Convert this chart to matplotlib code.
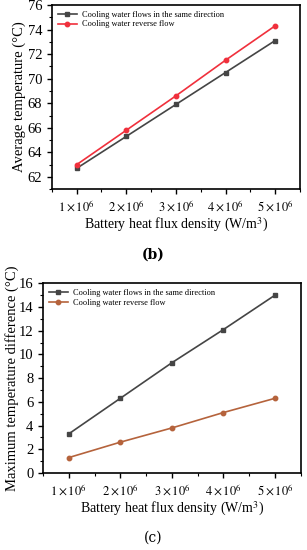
import numpy as np
import matplotlib.pyplot as plt
from matplotlib.ticker import MultipleLocator

plt.rcParams['font.family'] = ['Liberation Serif', 'DejaVu Serif']
plt.rcParams['mathtext.fontset'] = 'stix'

# heat flux density (x 10^6 W/m^3)
flux = [1, 2, 3, 4, 5]
flux_labels = ['$1\\times10^6$', '$2\\times10^6$', '$3\\times10^6$', '$4\\times10^6$', '$5\\times10^6$']

# (b) average temperature
avg_same = [62.7, 65.3, 67.9, 70.5, 73.1]
avg_reverse = [63.0, 65.8, 68.6, 71.5, 74.3]

# (c) maximum temperature difference
dt_same = [3.3, 6.3, 9.3, 12.1, 15.0]
dt_reverse = [1.3, 2.6, 3.8, 5.1, 6.3]

lbl_same = "Cooling water flows in the same direction"
lbl_rev = "Cooling water reverse flow"

fig = plt.figure(figsize=(3.07, 5.50), dpi=100)
ax1 = fig.add_axes([0.169, 0.656, 0.808, 0.335])
ax2 = fig.add_axes([0.140, 0.140, 0.840, 0.345])


def style(ax):
    ax.set_xlim(0.5, 5.5)
    ax.set_xticks(flux)
    ax.set_xticklabels(flux_labels, fontsize=9)
    ax.xaxis.set_minor_locator(MultipleLocator(0.5))
    ax.tick_params(which='major', direction='out', length=3.5, width=1)
    ax.tick_params(which='minor', direction='out', length=2, width=0.8)
    ax.tick_params(axis='y', labelsize=10.5)
    for s in ax.spines.values():
        s.set_linewidth(1.2)
    ax.set_xlabel("Battery heat flux density (W/m$^3$)", fontsize=10, labelpad=1)
    ax.legend(loc='upper left', frameon=False, fontsize=6, handlelength=2.3,
              borderaxespad=0.3, labelspacing=0.2, handletextpad=0.6)


ax1.plot(flux, avg_same, color='#454545', marker='s', ms=3, lw=1.2, label=lbl_same)
ax1.plot(flux, avg_reverse, color='#f0303c', marker='o', ms=3.2, lw=1.2, label=lbl_rev)
ax1.set_ylim(61, 76)
ax1.set_yticks(np.arange(62, 77, 2))
ax1.yaxis.set_minor_locator(MultipleLocator(1))
ax1.set_ylabel("Average temperature (°C)", fontsize=10.5, labelpad=1)
style(ax1)

ax2.plot(flux, dt_same, color='#454545', marker='s', ms=3, lw=1.2, label=lbl_same)
ax2.plot(flux, dt_reverse, color='#b5633c', marker='o', ms=3.2, lw=1.2, label=lbl_rev)
ax2.set_ylim(0, 16)
ax2.set_yticks(np.arange(0, 17, 2))
ax2.yaxis.set_minor_locator(MultipleLocator(1))
ax2.set_ylabel("Maximum temperature difference (°C)", fontsize=10.5, labelpad=0)
style(ax2)

fig.text(0.5, 1 - 255 / 550, "(b)", ha='center', va='center', fontsize=10,
         fontweight='bold', family='DejaVu Serif')
fig.text(0.5, 1 - 538 / 550, "(c)", ha='center', va='center', fontsize=10,
         family='DejaVu Serif')

fig.savefig("out.png", dpi=100)
